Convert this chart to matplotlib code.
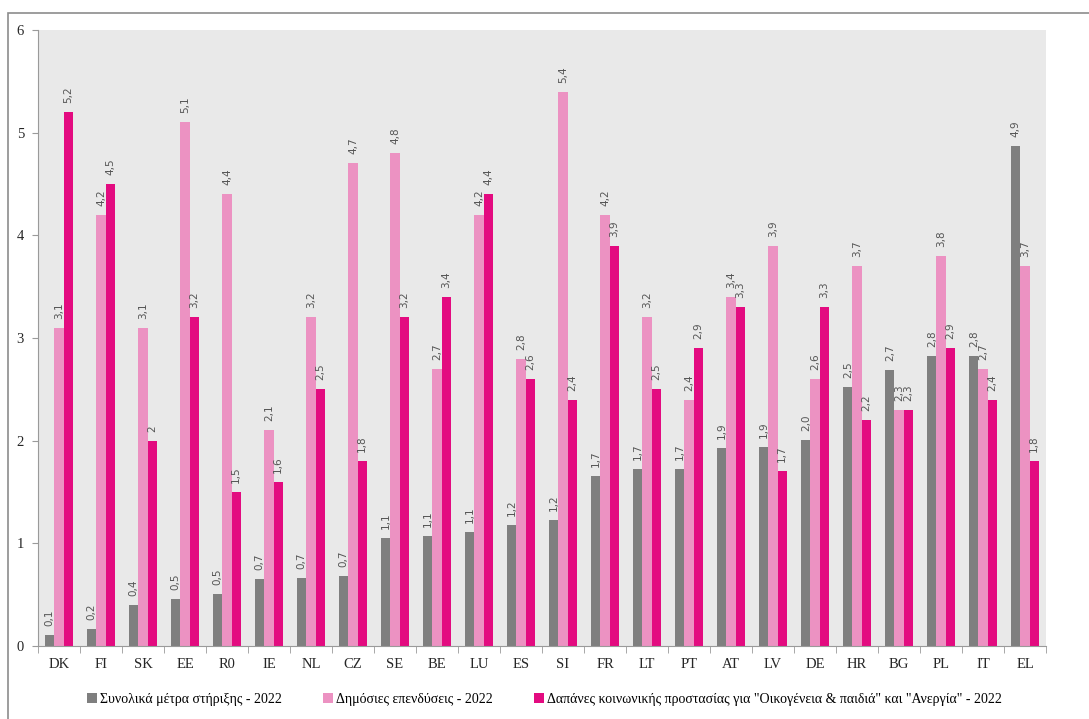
import matplotlib
matplotlib.use("Agg")
import matplotlib.pyplot as plt
import numpy as np
from matplotlib.patches import Rectangle

countries = ["DK", "FI", "SK", "EE", "R0", "IE", "NL", "CZ", "SE", "BE", "LU", "ES",
             "SI", "FR", "LT", "PT", "AT", "LV", "DE", "HR", "BG", "PL", "IT", "EL"]
support = [0.11, 0.17, 0.40, 0.46, 0.51, 0.65, 0.66, 0.68, 1.05, 1.07, 1.11, 1.18,
           1.23, 1.66, 1.72, 1.72, 1.93, 1.94, 2.01, 2.52, 2.69, 2.82, 2.82, 4.87]
investment = [3.1, 4.2, 3.1, 5.1, 4.4, 2.1, 3.2, 4.7, 4.8, 2.7, 4.2, 2.8,
              5.4, 4.2, 3.2, 2.4, 3.4, 3.9, 2.6, 3.7, 2.3, 3.8, 2.7, 3.7]
social = [5.2, 4.5, 2.0, 3.2, 1.5, 1.6, 2.5, 1.8, 3.2, 3.4, 4.4, 2.6,
          2.4, 3.9, 2.5, 2.9, 3.3, 1.7, 3.3, 2.2, 2.3, 2.9, 2.4, 1.8]

series_names = ["Συνολικά μέτρα στήριξης - 2022",
                "Δημόσιες επενδύσεις - 2022",
                "Δαπάνες κοινωνικής προστασίας για \"Οικογένεια & παιδιά\" και \"Ανεργία\" - 2022"]
colors = ["#7f7f7f", "#ec92c2", "#e30b80"]

serif = ["Liberation Serif", "DejaVu Serif"]


def fmt_fixed(v):
    return f"{v:.1f}".replace(".", ",")


def fmt_general(v):
    return f"{v:g}".replace(".", ",")


fig = plt.figure(figsize=(10.89, 7.19), dpi=100)
# outer chart border (cropped on the right and bottom in the original)
fig.patches.append(Rectangle((8 / 1089, -0.01), 1.0, 1 - 13 / 719 + 0.01,
                             transform=fig.transFigure, fill=False,
                             edgecolor="#8c8c8c", linewidth=1.2))
ax = fig.add_axes([38 / 1089, 1 - 646 / 719, (1046 - 38) / 1089, (646 - 30) / 719])
ax.set_facecolor("#e9e9e9")

x = np.arange(len(countries))
w = 0.22
data = [(support, fmt_fixed), (investment, fmt_general), (social, fmt_general)]
for i, ((vals, fmt), name, col) in enumerate(zip(data, series_names, colors)):
    pos = x + (i - 1) * w
    ax.bar(pos, vals, width=w, color=col, label=name, zorder=2)
    for px, v in zip(pos, vals):
        ax.annotate(fmt(v), (px, v), xytext=(0, 6.5), textcoords="offset points",
                    rotation=90, ha="center", va="bottom", fontsize=7.5,
                    color="#555555", zorder=3)

ax.set_xlim(-0.5, len(countries) - 0.5)
ax.set_ylim(0, 6)
ax.set_yticks(range(7))
ax.set_xticks(x)
ax.set_xticklabels(countries)
ax.set_xticks(np.arange(-0.5, len(countries)), minor=True)
ax.tick_params(axis="x", which="major", length=0, pad=9)
ax.tick_params(axis="x", which="minor", length=5, color="#9a9a9a", direction="out")
ax.tick_params(axis="y", length=4, color="#9a9a9a", direction="out", pad=6)
for lab in ax.get_xticklabels() + ax.get_yticklabels():
    lab.set_family(serif)
    lab.set_fontsize(10.5)
    lab.set_color("#262626")

for side in ["top", "right"]:
    ax.spines[side].set_visible(False)
for side in ["left", "bottom"]:
    ax.spines[side].set_color("#9a9a9a")

fig.legend(loc="center", bbox_to_anchor=(0.5, 0.027), ncol=3, frameon=False,
           handlelength=0.7, handleheight=0.7, handletextpad=0.2,
           columnspacing=3.0, prop={"family": serif, "size": 10})

fig.savefig("out.png", dpi=100)
